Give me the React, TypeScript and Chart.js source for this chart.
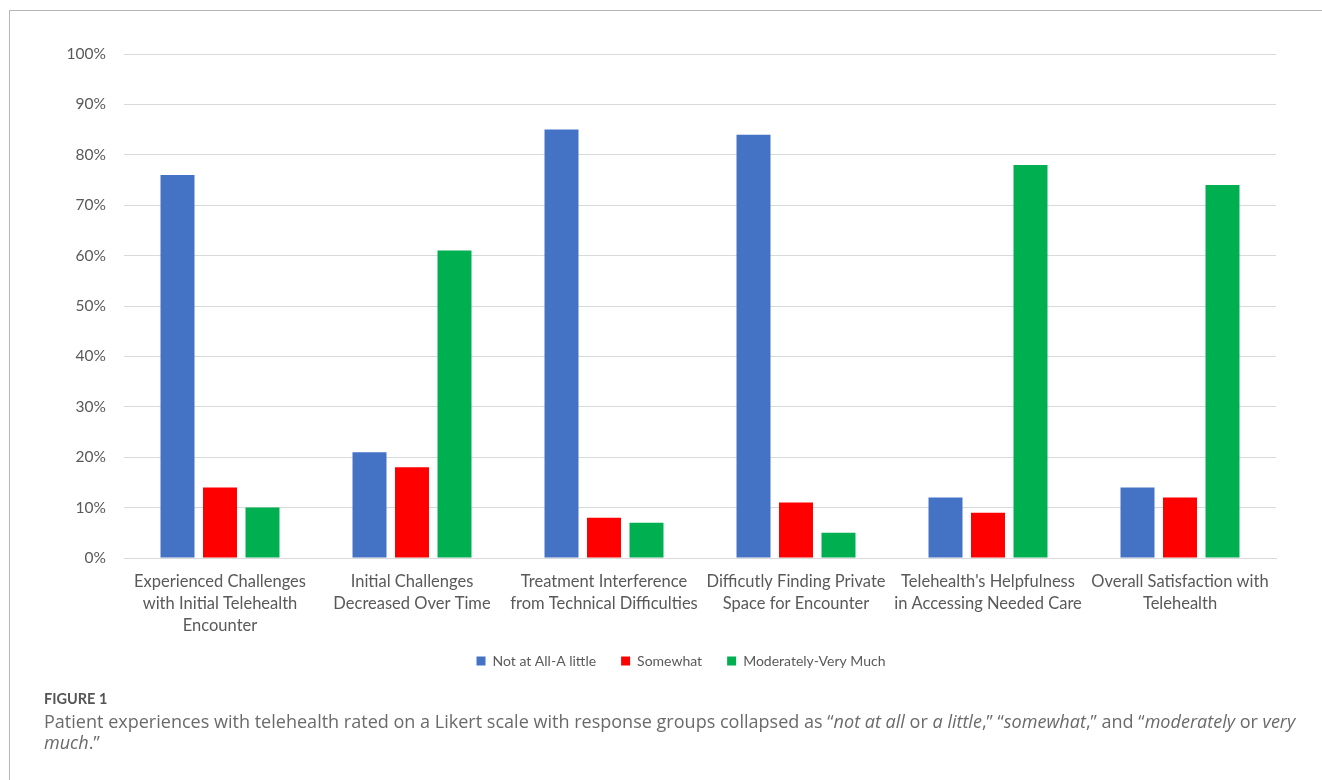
import React, { useEffect, useRef } from "react";
import { Chart, registerables } from "chart.js";

Chart.register(...registerables);

const categories: string[][] = [
  ["Experienced Challenges", "with Initial Telehealth", "Encounter"],
  ["Initial Challenges", "Decreased Over Time"],
  ["Treatment Interference", "from Technical Difficulties"],
  ["Difficutly Finding Private", "Space for Encounter"],
  ["Telehealth's Helpfulness", "in Accessing Needed Care"],
  ["Overall Satisfaction with", "Telehealth"],
];
const notAtAll = [76, 21, 85, 84, 12, 14];
const somewhat = [14, 18, 8, 11, 9, 12];
const moderately = [10, 61, 7, 5, 78, 74];
const seriesNames = ["Not at All-A little", "Somewhat", "Moderately-Very Much"];
const seriesColors = ["#4472C4", "#FF0000", "#00B050"];

const FONT = "Lato, 'Open Sans', sans-serif";

const shiftLegend = {
  id: "shiftLegend",
  afterLayout(chart: any) {
    const lg = chart.legend;
    if (lg) {
      lg.left += 43;
      lg.right += 43;
      lg.top -= 21;
      lg.bottom -= 21;
    }
  },
};

export default function App() {
  const ref = useRef<HTMLCanvasElement | null>(null);
  useEffect(() => {
    if (!ref.current) return;
    const chart = new Chart(ref.current, {
      type: "bar",
      data: {
        labels: categories,
        datasets: [notAtAll, somewhat, moderately].map((d, i) => ({
          label: seriesNames[i],
          data: d,
          backgroundColor: seriesColors[i],
          barPercentage: 0.8,
          categoryPercentage: 0.664,
        })),
      },
      plugins: [shiftLegend],
      options: {
        animation: false,
        responsive: false,
        maintainAspectRatio: false,
        layout: { padding: { left: 0, right: 46, top: 54, bottom: 0 } },
        plugins: {
          tooltip: { enabled: false },
          legend: {
            position: "bottom",
            labels: {
              boxWidth: 9,
              boxHeight: 9,
              padding: 25,
              color: "#595959",
              font: { family: FONT, size: 14 },
            },
          },
        },
        scales: {
          x: {
            grid: { display: false, drawTicks: false },
            border: { display: true, color: "#d9d9d9", width: 1 },
            ticks: {
              color: "#595959",
              font: { family: FONT, size: 16.5, lineHeight: 1.3333 },
              padding: 13,
              maxRotation: 0,
              autoSkip: false,
            },
          },
          y: {
            min: 0,
            max: 100,
            grid: { color: "#d9d9d9", drawTicks: false, lineWidth: 1 },
            border: { display: false },
            ticks: {
              stepSize: 10,
              color: "#595959",
              font: { family: FONT, size: 15.5 },
              padding: 18,
              callback: (v: any) => v + "%",
            },
            afterFit: (s: any) => {
              s.width = 124;
            },
          },
        },
      },
    });
    return () => chart.destroy();
  }, []);

  return (
    <div style={{ position: "fixed", inset: 0, overflow: "hidden", background: "#fff" }}>
      <div
        style={{
          position: "absolute",
          left: 9,
          top: 10,
          width: 1400,
          height: 900,
          border: "1.5px solid #b5b5b5",
          boxSizing: "border-box",
        }}
      />
      <canvas
        ref={ref}
        width={1322}
        height={699}
        style={{ position: "absolute", left: 0, top: 0, width: 1322, height: 699 }}
      />
      <div
        style={{
          position: "absolute",
          left: 44,
          top: 690,
          color: "#595959",
        }}
      >
        <div style={{ fontFamily: FONT, fontSize: 14.5, fontWeight: 700, lineHeight: "18px", color: "#555" }}>FIGURE 1</div>
        <div
          style={{
            fontFamily: "'Open Sans', sans-serif",
            fontWeight: 400,
            fontSize: 18.05,
            lineHeight: "21px",
            marginTop: 3,
            whiteSpace: "nowrap",
            color: "#6a6a6a",
          }}
        >
          Patient experiences with telehealth rated on a Likert scale with response groups collapsed as “<i>not at all</i> or <i>a little</i>,” “<i>somewhat</i>,” and “<i>moderately</i> or <i>very</i>
          <br />
          <i>much</i>.”
        </div>
      </div>
    </div>
  );
}
